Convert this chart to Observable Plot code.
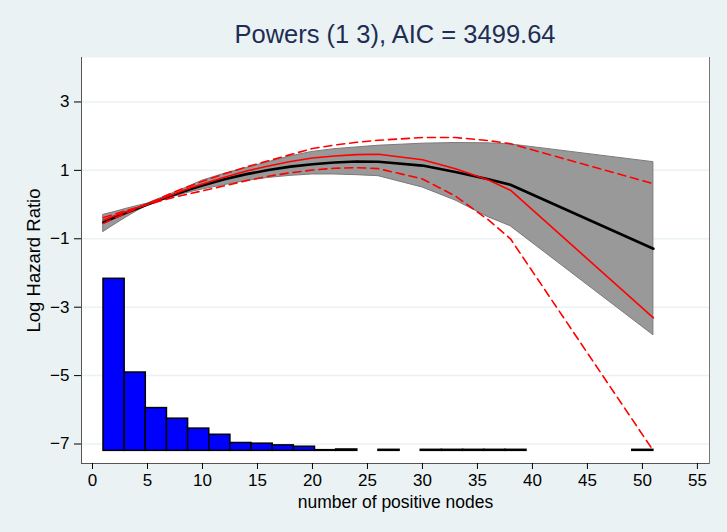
<!DOCTYPE html>
<html>
<head>
<meta charset="utf-8">
<script src="https://cdn.jsdelivr.net/npm/d3@7"></script>
<script src="https://cdn.jsdelivr.net/npm/@observablehq/plot@0.6"></script>
<style>
  body { margin: 0; background: #EAF2F3; }
  #wrap { position: relative; width: 727px; height: 532px; background: #EAF2F3; font-family: "Liberation Sans", Arial, sans-serif; }
  #title { position: absolute; left: 81px; width: 628px; top: 19px; text-align: center; font-size: 25.5px; color: #1E2D53; line-height: 30px; z-index: 2; }
  #chart { position: absolute; left: 0; top: 0; }
</style>
</head>
<body>
<div id="wrap">
  <div id="title">Powers (1 3), AIC = 3499.64</div>
  <div id="chart"></div>
</div>
<script>
// ---- data ----
const nodes   = [1, 2, 3, 4, 5, 6, 7, 8, 9, 10, 12, 14, 16, 18, 20, 22, 24, 26, 30, 33, 36, 38, 51];
const fitFP   = [-0.52, -0.38, -0.25, -0.12, 0.00, 0.12, 0.24, 0.35, 0.46, 0.56, 0.74, 0.89, 1.01, 1.11, 1.18, 1.23, 1.26, 1.25, 1.14, 0.95, 0.74, 0.58, -1.29];
const ciLow   = [-0.80, -0.59, -0.39, -0.20, -0.03, 0.09, 0.19, 0.28, 0.37, 0.44, 0.57, 0.69, 0.78, 0.84, 0.88, 0.88, 0.86, 0.83, 0.50, 0.12, -0.37, -0.63, -3.82];
const ciHigh  = [-0.30, -0.22, -0.13, -0.05, 0.03, 0.16, 0.29, 0.42, 0.56, 0.70, 0.90, 1.07, 1.24, 1.41, 1.54, 1.62, 1.67, 1.72, 1.78, 1.80, 1.79, 1.76, 1.24];
const fitAlt  = [-0.45, -0.33, -0.21, -0.10, 0.01, 0.13, 0.26, 0.38, 0.50, 0.60, 0.80, 0.98, 1.13, 1.26, 1.36, 1.42, 1.46, 1.47, 1.31, 1.05, 0.72, 0.42, -3.31];
const altHigh = [-0.55, -0.40, -0.26, -0.12, 0.02, 0.16, 0.31, 0.44, 0.56, 0.68, 0.90, 1.10, 1.28, 1.46, 1.64, 1.74, 1.82, 1.88, 1.96, 1.96, 1.87, 1.78, 0.61];
const altLow  = [-0.38, -0.28, -0.18, -0.09, 0.00, 0.09, 0.18, 0.26, 0.33, 0.40, 0.55, 0.70, 0.83, 0.93, 1.01, 1.06, 1.08, 1.05, 0.75, 0.25, -0.45, -1.00, -7.20];

// histogram of positive nodes (26 bins from 1 to 51), bar tops on the log-HR scale
const histRange = [1, 51];
const histBase  = -7.2;
const histTops  = [-2.17, -4.91, -5.95, -6.26, -6.55, -6.73, -6.97, -6.99, -7.04, -7.08, -7.18, -7.16, null, -7.17, null,
                   -7.17, -7.17, -7.17, -7.17, -7.17, null, null, null, null, null, -7.17];

const xTicks = [0, 5, 10, 15, 20, 25, 30, 35, 40, 45, 50, 55];
const yTicks = [3, 1, -1, -3, -5, -7];

// ---- build tables ----
const curve = nodes.map((x, i) => ({x, fit: fitFP[i], lo: ciLow[i], hi: ciHigh[i], alt: fitAlt[i], altHi: altHigh[i], altLo: altLow[i]}));
const binW = (histRange[1] - histRange[0]) / histTops.length;
const bars = histTops.map((top, i) => ({x1: histRange[0] + i * binW, x2: histRange[0] + (i + 1) * binW, top}))
                     .filter(d => d.top != null);

const chart = Plot.plot({
  width: 727,
  height: 532,
  marginLeft: 81,
  marginRight: 18,
  marginTop: 57,
  marginBottom: 69,
  style: { background: "transparent", fontFamily: "Liberation Sans, Arial, sans-serif", fontSize: "17px", color: "#000" },
  x: { domain: [-1, 56.1] },
  y: { domain: [-7.57, 4.3] },
  marks: [
    Plot.frame({ fill: "white", stroke: null }),
    Plot.gridY(yTicks, { stroke: "#EAF2F3", strokeOpacity: 1, strokeWidth: 1.5 }),
    Plot.rectY(bars, { x1: "x1", x2: "x2", y1: () => histBase, y2: "top", fill: "#0000FF", stroke: "#000", strokeWidth: 1.5 }),
    Plot.areaY(curve, { x: "x", y1: "lo", y2: "hi", fill: "#999999", stroke: "#7a7a7a", strokeWidth: 1 }),
    Plot.line(curve, { x: "x", y: "fit", stroke: "#000", strokeWidth: 2.6 }),
    Plot.line(curve, { x: "x", y: "alt", stroke: "#FF0000", strokeWidth: 1.6 }),
    Plot.line(curve, { x: "x", y: "altHi", stroke: "#FF0000", strokeWidth: 1.6, strokeDasharray: "8,5" }),
    Plot.line(curve, { x: "x", y: "altLo", stroke: "#FF0000", strokeWidth: 1.6, strokeDasharray: "8,5" }),
    Plot.frame({ anchor: "left", stroke: "#555" }),
    Plot.frame({ anchor: "bottom", stroke: "#555" }),
    Plot.frame({ anchor: "right", stroke: "#777" }),
    Plot.axisY({ ticks: yTicks, tickSize: 7, tickPadding: 5, fontSize: 17, label: null }),
    Plot.axisY({ ticks: [], fontSize: 18.5, label: "Log Hazard Ratio", labelAnchor: "center", labelArrow: "none", labelOffset: 55 }),
    Plot.axisX({ ticks: xTicks, tickSize: 6, tickPadding: 4, fontSize: 17, label: null }),
    Plot.axisX({ ticks: [], fontSize: 17.5, label: "number of positive nodes", labelAnchor: "center", labelArrow: "none", labelOffset: 44 })
  ]
});
document.getElementById("chart").appendChild(chart);
</script>
</body>
</html>
